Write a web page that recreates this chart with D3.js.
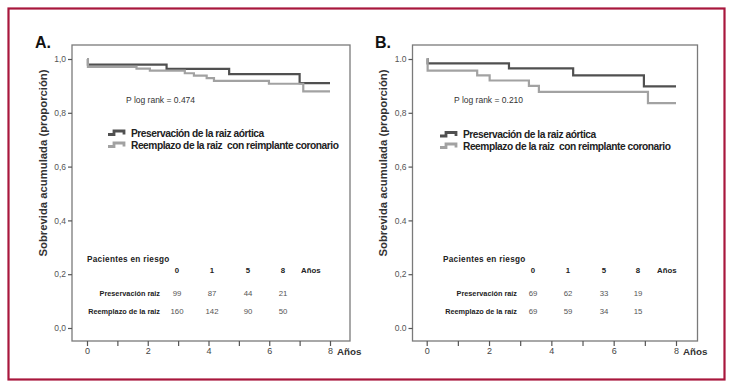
<!DOCTYPE html>
<html><head><meta charset="utf-8">
<script src="https://cdn.jsdelivr.net/npm/d3@7"></script>
<style>body{margin:0;background:#fff} svg{display:block}</style>
</head><body>
<svg id="c" width="732" height="389"></svg>
<script>
// ---------- data ----------
const panelLabels = ["A.", "B."];
const pLogRank = ["P log rank = 0.474", "P log rank = 0.210"];
const seriesNames = ["Preservación de la raiz aórtica", "Reemplazo de la raiz  con reimplante coronario"];
const aPresTimes = [0, 0.03, 2.62, 4.68, 7.0];
const aPresSurv  = [1.0, 0.979, 0.963, 0.944, 0.910];
const aReemTimes = [0, 0.03, 1.63, 2.07, 3.22, 3.52, 3.94, 4.18, 5.99, 7.12];
const aReemSurv  = [1.0, 0.971, 0.964, 0.957, 0.947, 0.938, 0.929, 0.919, 0.908, 0.880];
const bPresTimes = [0, 0.03, 2.64, 4.70, 6.97];
const bPresSurv  = [1.0, 0.984, 0.965, 0.939, 0.898];
const bReemTimes = [0, 0.03, 1.62, 2.02, 3.28, 3.60, 7.10];
const bReemSurv  = [1.0, 0.957, 0.939, 0.920, 0.900, 0.878, 0.836];
const followUpEnd = 8;
const xTickValues = [0, 1, 2, 3, 4, 5, 6, 7, 8];
const xTickLabels = ["0", "", "2", "", "4", "", "6", "", "8"];
const yTickValues = [0, 0.2, 0.4, 0.6, 0.8, 1.0];
const yTickLabelsA = ["0,0", "0,2", "0,4", "0,6", "0,8", "1,0"];
const yTickLabelsB = ["0.0", "0,2", "0.4", "0,6", "0,8", "1.0"];
const riskTitle = "Pacientes en riesgo";
const riskTimes = ["0", "1", "5", "8"];
const riskUnit = "Años";
const riskRowLabelsA = ["Preservación raiz", "Reemplazo de la raiz"];
const riskRowLabelsB = ["Preservación raíz", "Reemplazo de la raíz"];
const aRiskPres = [99, 87, 44, 21];
const aRiskReem = [160, 142, 90, 50];
const bRiskPres = [69, 62, 33, 19];
const bRiskReem = [69, 59, 34, 15];
const yTitle = "Sobrevida acumulada (proporción)";
const xTitle = "Años";

// ---------- layout ----------
const FONT = "'Liberation Sans', Arial, sans-serif";
const colors = ["#505050", "#a2a2a2"];
const panels = [
  { label: panelLabels[0], p: pLogRank[0], yLabels: yTickLabelsA, rowLabels: riskRowLabelsA,
    series: [[aPresTimes, aPresSurv], [aReemTimes, aReemSurv]], risk: [aRiskPres, aRiskReem],
    box: {l: 72, t: 45, r: 350, b: 341}, xr: [87, 330], labelX: 35, titleX: 44,
    pX: 126, legIcon: 108, legText: 131, legY: [133, 145],
    tabTitleX: 87, cols: [177, 212, 248, 283], unitX: 301, rowRight: 160 },
  { label: panelLabels[1], p: pLogRank[1], yLabels: yTickLabelsB, rowLabels: riskRowLabelsB,
    series: [[bPresTimes, bPresSurv], [bReemTimes, bReemSurv]], risk: [bRiskPres, bRiskReem],
    box: {l: 412.5, t: 45, r: 697.5, b: 341}, xr: [426.7, 676], labelX: 375, titleX: 384,
    pX: 454, legIcon: 440, legText: 463, legY: [134.5, 146],
    tabTitleX: 443, cols: [533, 568, 604, 638], unitX: 657, rowRight: 517 }
];

const svg = d3.select("#c");
svg.append("rect").attr("x", 0).attr("y", 0).attr("width", 732).attr("height", 389).attr("fill", "#fff");
// outer frame
svg.append("rect").attr("x", 8.5).attr("y", 8.5).attr("width", 716).attr("height", 371)
  .attr("fill", "none").attr("stroke", "#a8173d").attr("stroke-width", 2.2);

panels.forEach(P => {
  const g = svg.append("g");
  const x = d3.scaleLinear().domain([0, followUpEnd]).range(P.xr);
  const y = d3.scaleLinear().domain([0, 1]).range([328, 59]);

  // plot box
  g.append("rect").attr("x", P.box.l).attr("y", P.box.t)
    .attr("width", P.box.r - P.box.l).attr("height", P.box.b - P.box.t)
    .attr("fill", "none").attr("stroke", "#7a7a7a").attr("stroke-width", 1.3);

  // y axis
  const yAxis = d3.axisLeft(y).tickValues(yTickValues).tickSize(4).tickPadding(2)
    .tickFormat((d, i) => P.yLabels[i]);
  const ya = g.append("g").attr("transform", `translate(${P.box.l},0)`).call(yAxis);
  ya.select(".domain").remove();
  ya.selectAll("line").attr("stroke", "#555").attr("stroke-width", 1.2);
  ya.selectAll("text").attr("font-family", FONT).attr("font-size", 8.5).attr("fill", "#555");

  // x axis
  const xAxis = d3.axisBottom(x).tickValues(xTickValues).tickSize(5).tickPadding(2)
    .tickFormat((d, i) => xTickLabels[i]);
  const xa = g.append("g").attr("transform", `translate(0,${P.box.b})`).call(xAxis);
  xa.select(".domain").remove();
  xa.selectAll("line").attr("stroke", "#555").attr("stroke-width", 1.2);
  xa.selectAll("text").attr("font-family", FONT).attr("font-size", 9).attr("fill", "#444");
  g.append("text").attr("x", x(followUpEnd) + 7).attr("y", 355).text(xTitle)
    .attr("font-family", FONT).attr("font-size", 9.8).attr("font-weight", "bold").attr("fill", "#333");

  // y title
  g.append("text").attr("transform", `translate(${P.titleX},163) rotate(-90)`)
    .attr("text-anchor", "middle").attr("dominant-baseline", "middle")
    .text(yTitle).attr("font-family", FONT).attr("font-size", 11.3).attr("font-weight", "bold").attr("fill", "#333");

  // panel label
  g.append("text").attr("x", P.labelX).attr("y", 48).text(P.label)
    .attr("font-family", FONT).attr("font-size", 16).attr("font-weight", "bold").attr("fill", "#111");

  // curves
  const line = d3.line().x(d => x(d[0])).y(d => y(d[1])).curve(d3.curveStepAfter);
  P.series.forEach((s, i) => {
    const pts = s[0].map((t, k) => [t, s[1][k]]);
    pts.push([followUpEnd, s[1][s[1].length - 1]]);
    g.append("path").datum(pts).attr("d", line).attr("fill", "none")
      .attr("stroke", colors[i]).attr("stroke-width", 2.2);
  });

  // p log rank
  g.append("text").attr("x", P.pX).attr("y", 103).text(P.p)
    .attr("font-family", FONT).attr("font-size", 8.5).attr("fill", "#333");

  // legend
  seriesNames.forEach((name, i) => {
    const yy = P.legY[i];
    const ix = P.legIcon;
    g.append("path")
      .attr("d", `M${ix},${yy + 1.5}H${ix + 6}V${yy - 2}H${ix + 16}V${yy + 1.5}`)
      .attr("fill", "none").attr("stroke", colors[i]).attr("stroke-width", 2.8);
    g.append("text").attr("x", P.legText).attr("y", yy + 3.6).text(name)
      .style("white-space", "pre")
      .attr("font-family", FONT).attr("font-size", 10.2).attr("letter-spacing", -0.45)
      .attr("font-weight", "bold").attr("fill", "#222");
  });

  // risk table
  g.append("text").attr("x", P.tabTitleX).attr("y", 262).text(riskTitle)
    .attr("font-family", FONT).attr("font-size", 8.2).attr("letter-spacing", 0.3)
    .attr("font-weight", "bold").attr("fill", "#222");
  riskTimes.forEach((t, j) => {
    g.append("text").attr("x", P.cols[j]).attr("y", 273).attr("text-anchor", "middle").text(t)
      .attr("font-family", FONT).attr("font-size", 7.8).attr("font-weight", "bold").attr("fill", "#222");
  });
  g.append("text").attr("x", P.unitX).attr("y", 273).text(riskUnit)
    .attr("font-family", FONT).attr("font-size", 7.8).attr("font-weight", "bold").attr("fill", "#222");
  const rowY = [296, 314];
  P.rowLabels.forEach((lab, r) => {
    g.append("text").attr("x", P.rowRight).attr("y", rowY[r]).attr("text-anchor", "end").text(lab)
      .attr("font-family", FONT).attr("font-size", 7.3).attr("font-weight", "bold").attr("fill", "#222");
    P.risk[r].forEach((v, j) => {
      g.append("text").attr("x", P.cols[j]).attr("y", rowY[r]).attr("text-anchor", "middle").text(v)
        .attr("font-family", FONT).attr("font-size", 7.8).attr("fill", "#555");
    });
  });
});
</script>
</body></html>
